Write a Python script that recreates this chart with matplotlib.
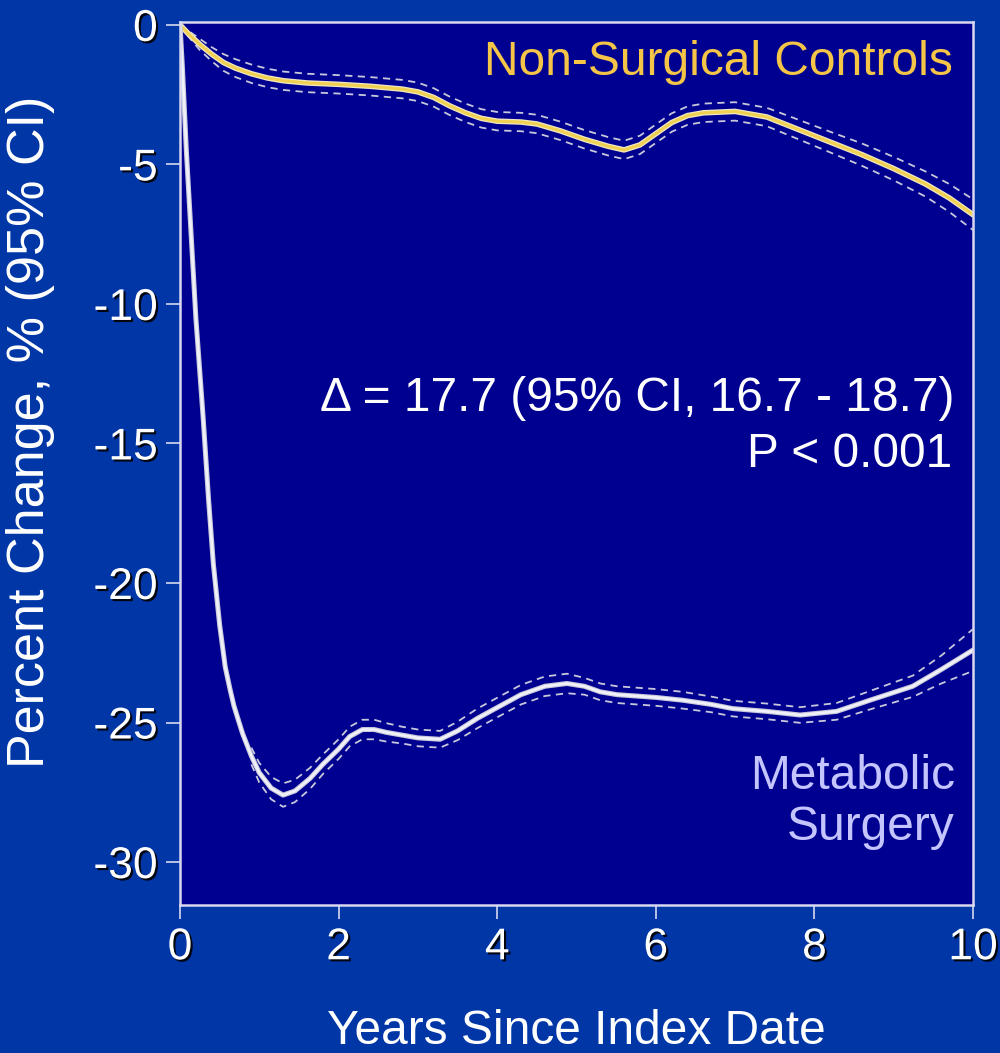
import numpy as np
import matplotlib
matplotlib.use("Agg")
from matplotlib import pyplot as plt, patheffects as pe

# years since index date / percent change
ctrl_years = [0, 0.1, 0.25, 0.4, 0.55, 0.7, 0.9, 1.1, 1.3, 1.6, 2.0, 2.4, 2.8, 3.0,
              3.2, 3.4, 3.6, 3.8, 4.0, 4.3, 4.5, 4.8, 5.1, 5.4, 5.6, 5.8, 6.0, 6.2,
              6.4, 6.6, 7.0, 7.4, 7.8, 8.2, 8.6, 9.0, 9.4, 9.7, 10]
ctrl_change = [0, -0.3, -0.7, -1.05, -1.35, -1.55, -1.75, -1.9, -2.0, -2.08, -2.13,
               -2.2, -2.3, -2.4, -2.6, -2.9, -3.15, -3.35, -3.45, -3.48, -3.55, -3.8,
               -4.1, -4.35, -4.48, -4.3, -3.9, -3.5, -3.25, -3.15, -3.1, -3.3, -3.75,
               -4.2, -4.65, -5.15, -5.7, -6.2, -6.8]
ctrl_ci = [0, 0.1, 0.2, 0.25, 0.3, 0.32, 0.33, 0.33, 0.33, 0.33, 0.33, 0.33, 0.33,
           0.33, 0.33, 0.33, 0.33, 0.33, 0.33, 0.33, 0.33, 0.33, 0.33, 0.33, 0.33,
           0.33, 0.33, 0.33, 0.33, 0.33, 0.33, 0.33, 0.35, 0.37, 0.4, 0.42, 0.45,
           0.5, 0.55]

surg_years = [0, 0.03, 0.08, 0.13, 0.2, 0.29, 0.36, 0.42, 0.5, 0.57, 0.63, 0.68,
              0.74, 0.79, 0.9, 1.0, 1.15, 1.3, 1.45, 1.64, 1.8, 2.0, 2.14, 2.3, 2.45,
              2.6, 2.8, 3.0, 3.28, 3.5, 3.75, 4.04, 4.3, 4.6, 4.88, 5.1, 5.3, 5.51,
              6.0, 6.34, 6.7, 6.97, 7.4, 7.82, 8.28, 8.7, 9.24, 9.6, 10]
surg_change = [0, -1.5, -4.5, -7.0, -10.5, -14.0, -17.0, -19.3, -21.5, -23.0, -23.8,
               -24.4, -24.95, -25.4, -26.2, -26.8, -27.35, -27.6, -27.45, -27.0,
               -26.5, -25.95, -25.5, -25.25, -25.25, -25.35, -25.45, -25.55, -25.6,
               -25.3, -24.85, -24.4, -24.0, -23.7, -23.6, -23.7, -23.9, -24.0, -24.1,
               -24.2, -24.35, -24.5, -24.6, -24.73, -24.6, -24.2, -23.7, -23.1, -22.4]
surg_ci = [np.nan] * 14 + [0.3, 0.35, 0.4, 0.42, 0.4, 0.38, 0.35, 0.35, 0.35, 0.35,
                           0.35, 0.33, 0.3, 0.3, 0.3, 0.33, 0.35, 0.35, 0.35, 0.35,
                           0.35, 0.3, 0.3, 0.3, 0.3, 0.3, 0.28, 0.28, 0.28, 0.28,
                           0.3, 0.33, 0.38, 0.5, 0.75]

x_ticks = [0, 2, 4, 6, 8, 10]
y_ticks = [0, -5, -10, -15, -20, -25, -30]

OUTER = "#0036a6"
INNER = "#000090"
FRAME = "#d8d8f0"
YELLOW = "#f5c548"
LAVENDER = "#c4c4ff"

plt.rcParams["font.family"] = ["Liberation Sans", "DejaVu Sans"]

fig = plt.figure(figsize=(10, 10.53), dpi=100, facecolor=OUTER)
ax = fig.add_axes([0.18, 0.1405, 0.793, 0.8385])
ax.set_facecolor(INNER)

cy = np.array(ctrl_change); ch = np.array(ctrl_ci)
sy = np.array(surg_change); sh = np.array(surg_ci)

dash = dict(color="#c8c8dc", lw=1.3, ls=(0, (4, 3)))
ax.plot(ctrl_years, cy + ch, **dash)
ax.plot(ctrl_years, cy - ch, **dash)
ax.plot(surg_years, sy + sh, **dash)
ax.plot(surg_years, sy - sh, **dash)

ax.plot(ctrl_years, cy, color="#f0e8c0", lw=4.0, solid_capstyle="round")
ax.plot(ctrl_years, cy, color="#f0d050", lw=2.2, solid_capstyle="round")
ax.plot(surg_years, sy, color="#c8c8dc", lw=3.6, solid_capstyle="round")
ax.plot(surg_years, sy, color="#f0f0f8", lw=2.0, solid_capstyle="round")

ax.set_xlim(0, 10)
ax.set_ylim(-31.54, 0.1)
ax.set_xticks(x_ticks)
ax.set_yticks(y_ticks)
ax.set_xticklabels([str(t) for t in x_ticks])
ax.set_yticklabels([str(t) for t in y_ticks])

for s in ax.spines.values():
    s.set_color(FRAME)
    s.set_linewidth(1.8)
ax.tick_params(colors=FRAME, length=10, width=1.2, labelsize=32, labelcolor="white",
               pad=6)
shadow = [pe.withSimplePatchShadow(offset=(1.5, -1.5), shadow_rgbFace="black", alpha=0.9)]
for lab in ax.get_xticklabels() + ax.get_yticklabels():
    lab.set_path_effects(shadow)

ax.set_xlabel("Years Since Index Date", color="white", fontsize=34.5, labelpad=29)
ax.set_ylabel("Percent Change, % (95% CI)", color="white", fontsize=37.5)
ax.yaxis.set_label_coords(-0.157, 0.536)

ax.text(9.74, -1.33, "Non-Surgical Controls", color=YELLOW, fontsize=34.5,
        ha="right", va="center")
ax.text(9.77, -13.37, "\u0394 = 17.7 (95% CI, 16.7 - 18.7)", color="white",
        fontsize=34.5, ha="right", va="center")
ax.text(9.74, -15.4, "P < 0.001", color="white", fontsize=34.5, ha="right",
        va="center")
ax.text(9.77, -27.85, "Metabolic\nSurgery", color=LAVENDER, fontsize=34.5,
        ha="right", va="center", multialignment="right", linespacing=1.15)

fig.savefig("out.png", dpi=100, facecolor=OUTER)
